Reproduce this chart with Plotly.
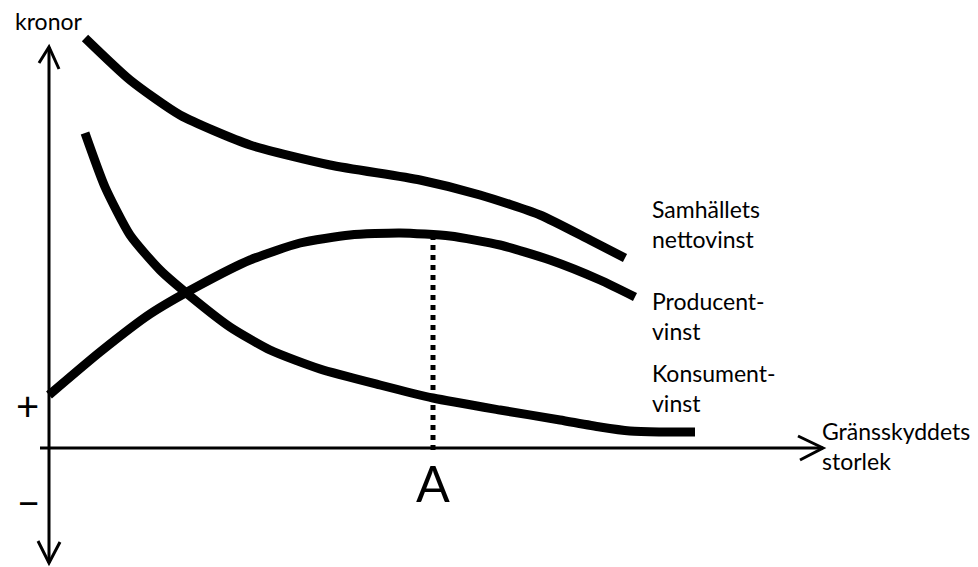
import plotly.graph_objects as go

# Hand-drawn sketch: x = Gränsskyddets storlek, y = kronor (arbitrary units)
samhalle_x = [3.6, 8.1, 13.1, 20.1, 28.1, 37.1, 43.1, 49.1, 54.1, 57.6]
samhalle_y = [41.2, 37.0, 33.5, 30.5, 28.5, 27.0, 25.5, 23.5, 21.0, 19.2]

producent_x = [0.0, 5.1, 10.1, 15.1, 20.1, 25.1, 30.1, 35.1, 40.1, 45.1, 50.1, 55.1, 58.6]
producent_y = [5.5, 9.8, 13.6, 16.5, 19.0, 20.7, 21.5, 21.7, 21.4, 20.5, 19.0, 17.0, 15.3]

konsument_x = [3.6, 5.6, 8.1, 11.1, 14.1, 18.1, 22.1, 27.1, 33.1, 38.4, 45.1, 51.1, 55.1, 58.1, 61.0, 64.6]
konsument_y = [31.7, 26.3, 21.5, 18.0, 15.4, 12.3, 10.0, 8.1, 6.5, 5.2, 4.0, 3.0, 2.3, 1.9, 1.8, 1.8]

point_a = 38.4          # where producer surplus peaks
point_a_top = 21.3

x_axis_start, x_axis_end = -0.9, 77.4
y_axis_top, y_axis_bottom = 40.3, -11.3

curve_labels = [
    ("Samhällets<br>nettovinst", 22.6),
    ("Producent-<br>vinst", 13.4),
    ("Konsument-<br>vinst", 6.2),
]

FONT = "Lato, Noto Sans, sans-serif"
INK = "black"

fig = go.Figure()

for xs, ys, name in [(samhalle_x, samhalle_y, "Samhällets nettovinst"),
                     (producent_x, producent_y, "Producentvinst"),
                     (konsument_x, konsument_y, "Konsumentvinst")]:
    fig.add_trace(go.Scatter(
        x=xs, y=ys, mode="lines", name=name,
        line=dict(color=INK, width=9, shape="spline", smoothing=0.6),
        hoverinfo="skip",
    ))

# dotted line down from the top of the producer curve
fig.add_trace(go.Scatter(
    x=[point_a, point_a], y=[0, point_a_top], mode="lines",
    line=dict(color=INK, width=5, dash="dot"), hoverinfo="skip",
))

# axes drawn as shapes
fig.add_shape(type="line", x0=x_axis_start, y0=0.2, x1=x_axis_end, y1=0.2,
              line=dict(color=INK, width=3))
fig.add_shape(type="line", x0=0, y0=y_axis_bottom, x1=0, y1=y_axis_top,
              line=dict(color=INK, width=3))

# open arrow heads
heads = [
    (0, y_axis_top, -1.0, -1.6, 1.0, -2.2),
    (0, y_axis_bottom, -1.1, 2.2, 1.1, 2.1),
    (x_axis_end, 0.2, -2.5, 1.2, -2.3, -1.2),
]
for tx, ty, dx1, dy1, dx2, dy2 in heads:
    fig.add_shape(type="path",
                  path=f"M {tx+dx1},{ty+dy1} L {tx},{ty} L {tx+dx2},{ty+dy2}",
                  line=dict(color=INK, width=3))

for text, y in curve_labels:
    fig.add_annotation(x=60.1, y=y, text=text, showarrow=False, xanchor="left",
                       yanchor="middle", align="left",
                       font=dict(family=FONT, size=23, color=INK))

fig.add_annotation(x=77.1, y=0.4, text="Gränsskyddets<br>storlek", showarrow=False,
                   xanchor="left", yanchor="middle", align="left",
                   font=dict(family=FONT, size=23, color=INK))
fig.add_annotation(x=-3.6, y=42.9, text="kronor", showarrow=False,
                   xanchor="left", yanchor="middle",
                   font=dict(family=FONT, size=23, color=INK))
fig.add_annotation(x=-2.2, y=4.4, text="+", showarrow=False,
                   font=dict(family=FONT, size=40, color=INK))
fig.add_annotation(x=-2.1, y=-5.2, text="−", showarrow=False,
                   font=dict(family=FONT, size=40, color=INK))
fig.add_annotation(x=point_a, y=-3.3, text="A", showarrow=False,
                   font=dict(family=FONT, size=50, color=INK))

# page body has an 8px margin, so the figure is 8px smaller and the ranges shifted
fig.update_layout(
    width=970, height=559,
    margin=dict(l=0, r=0, t=0, b=0),
    paper_bgcolor="white", plot_bgcolor="white",
    showlegend=False,
    xaxis=dict(range=[-4.1, 92.9], visible=False),
    yaxis=dict(range=[-11.7, 44.2], visible=False),
)

fig.write_html("out.html")
